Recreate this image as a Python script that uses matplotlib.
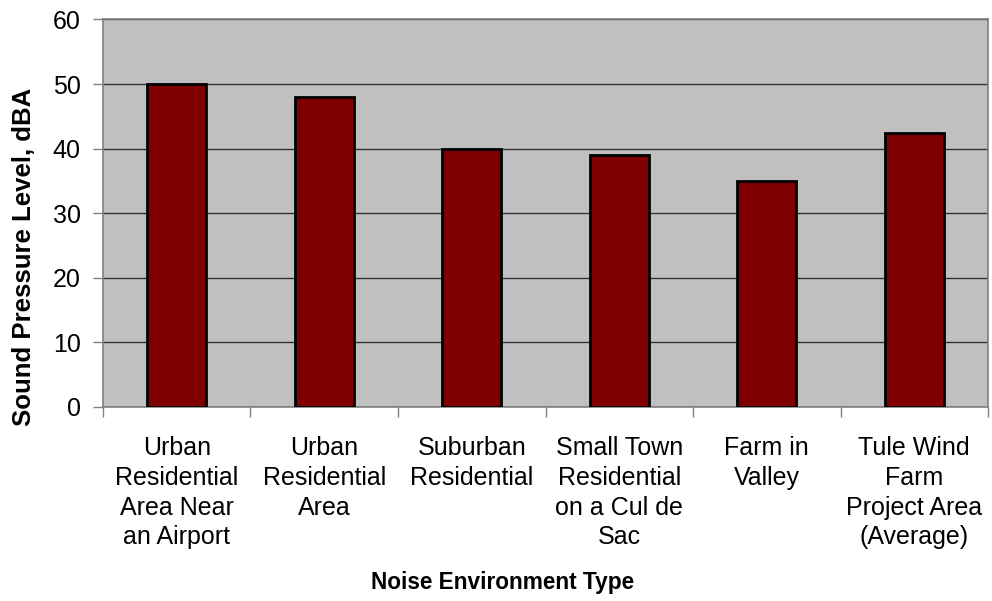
import matplotlib.pyplot as plt
import numpy as np

categories = [
    "Urban\nResidential\nArea Near\nan Airport",
    "Urban\nResidential\nArea",
    "Suburban\nResidential",
    "Small Town\nResidential\non a Cul de\nSac",
    "Farm in\nValley",
    "Tule Wind\nFarm\nProject Area\n(Average)",
]
levels_dba = [50, 48, 40, 39, 35, 42.5]
y_ticks = [0, 10, 20, 30, 40, 50, 60]

plt.rcParams["font.family"] = ["Liberation Sans", "DejaVu Sans"]

fig = plt.figure(figsize=(9.92, 6.01), dpi=100)
ax = fig.add_axes([0.1038, 0.3228, 0.996 - 0.1038, 0.9676 - 0.3228])
ax.set_facecolor("#c0c0c0")

x = np.arange(len(categories))
ax.bar(x, levels_dba, width=0.4, color="#800000", edgecolor="black", linewidth=2, zorder=3)

ax.set_xlim(-0.5, len(categories) - 0.5)
ax.set_ylim(0, 60)
ax.set_yticks(y_ticks)
ax.yaxis.grid(True, color="#333333", linewidth=1.0, zorder=1)
ax.set_axisbelow(True)

# category labels in the middle, tick marks on the boundaries
ax.set_xticks(x)
ax.set_xticklabels(categories, fontsize=18, linespacing=1.3)
ax.tick_params(axis="x", which="major", length=0, pad=21)
ax.set_xticks(np.arange(len(categories) + 1) - 0.5, minor=True)
ax.tick_params(axis="x", which="minor", length=7, width=1, color="#808080")
ax.tick_params(axis="y", labelsize=18, length=7, width=1, color="#808080", pad=9)

for side in ["left", "top", "right", "bottom"]:
    ax.spines[side].set_color("#808080")
    ax.spines[side].set_linewidth(1.2)

# axis titles sit off-centre in the original, so place them on the figure
fig.text(24 / 992, 1 - 257 / 601, "Sound Pressure Level, dBA", rotation=90,
         fontsize=18.5, fontweight="bold", ha="center", va="center")
fig.text(503 / 992, 1 - 583 / 601, "Noise Environment Type",
         fontsize=16.3, fontweight="bold", ha="center", va="center")

fig.savefig("out.png", dpi=100)
